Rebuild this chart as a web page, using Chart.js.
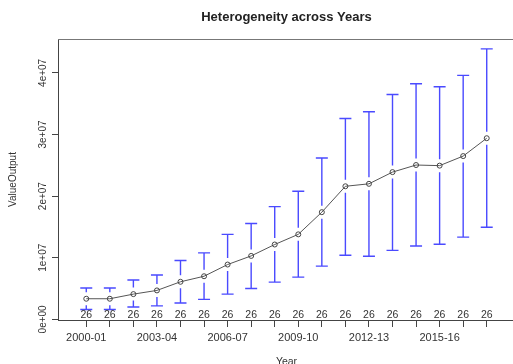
<!DOCTYPE html>
<html>
<head>
<meta charset="utf-8">
<script src="https://cdn.jsdelivr.net/npm/chart.js@4/dist/chart.umd.min.js"></script>
<style>
  html, body { margin: 0; padding: 0; background: #fff; overflow: hidden; }
  #wrap { position: relative; width: 520px; height: 370px; }
</style>
</head>
<body>
<div id="wrap"><canvas id="chart"></canvas></div>
<script>
// Survey years (x categories)
const years = ['2000-01','2001-02','2002-03','2003-04','2004-05','2005-06','2006-07','2007-08','2008-09',
               '2009-10','2010-11','2011-12','2012-13','2013-14','2014-15','2015-16','2016-17','2017-18'];
// Mean value of output per year
const meanValues  = [3.35e6, 3.35e6, 4.1e6, 4.7e6, 6.1e6, 7.0e6, 8.9e6, 10.3e6, 12.15e6,
                     13.8e6, 17.4e6, 21.6e6, 22.0e6, 23.9e6, 25.05e6, 24.95e6, 26.5e6, 29.4e6];
// Upper and lower ends of the confidence interval
const upperValues = [5.1e6, 5.1e6, 6.4e6, 7.2e6, 9.55e6, 10.8e6, 13.8e6, 15.55e6, 18.3e6,
                     20.8e6, 26.2e6, 32.6e6, 33.7e6, 36.5e6, 38.25e6, 37.75e6, 39.6e6, 43.9e6];
const lowerValues = [1.6e6, 1.6e6, 2.0e6, 2.2e6, 2.65e6, 3.25e6, 4.1e6, 5.0e6, 6.05e6,
                     6.85e6, 8.65e6, 10.4e6, 10.25e6, 11.2e6, 11.9e6, 12.2e6, 13.35e6, 14.95e6];
// Number of observations per year
const nCounts = [26,26,26,26,26,26,26,26,26,26,26,26,26,26,26,26,26,26];
// Axis ticks
const yTickValues = [0, 1e7, 2e7, 3e7, 4e7];
const yTickLabels = ['0e+00', '1e+07', '2e+07', '3e+07', '4e+07'];
const xLabelEvery = 3;

const FONT = "'Liberation Sans', Arial, Helvetica, sans-serif";
const TEXT = '#333';
const AXIS = '#444';

// Confidence-interval bars with a gap around each mean marker, plus the n= counts
const ciBars = {
  id: 'ciBars',
  afterDatasetsDraw(chart) {
    const xs = chart.scales.x, ys = chart.scales.y, ctx = chart.ctx;
    const gap = 6.5, cap = 6;
    ctx.save();
    ctx.strokeStyle = '#4a4aff';
    ctx.lineWidth = 1.4;
    meanValues.forEach((m, i) => {
      const x = xs.getPixelForValue(i);
      const yM = ys.getPixelForValue(m);
      const yU = ys.getPixelForValue(upperValues[i]);
      const yL = ys.getPixelForValue(lowerValues[i]);
      ctx.beginPath();
      if (yU < yM - gap) { ctx.moveTo(x, yU); ctx.lineTo(x, yM - gap); }
      if (yL > yM + gap) { ctx.moveTo(x, yM + gap); ctx.lineTo(x, yL); }
      ctx.moveTo(x - cap, yU); ctx.lineTo(x + cap, yU);
      ctx.moveTo(x - cap, yL); ctx.lineTo(x + cap, yL);
      ctx.stroke();
    });
    ctx.fillStyle = TEXT;
    ctx.font = '10.5px ' + FONT;
    ctx.textAlign = 'center';
    ctx.textBaseline = 'middle';
    const yN = ys.getPixelForValue(0) - 4;
    nCounts.forEach((n, i) => ctx.fillText(String(n), xs.getPixelForValue(i), yN));
    ctx.restore();
  }
};

// Frame line along the top of the plotting region
const topFrame = {
  id: 'topFrame',
  afterDraw(chart) {
    const a = chart.chartArea, ctx = chart.ctx;
    ctx.save();
    ctx.strokeStyle = '#777';
    ctx.lineWidth = 1.2;
    ctx.beginPath();
    ctx.moveTo(a.left, a.top + 0.5);
    ctx.lineTo(a.right + 4, a.top + 0.5);
    ctx.stroke();
    ctx.restore();
  }
};

new Chart(document.getElementById('chart'), {
  type: 'line',
  data: {
    datasets: [{
      data: meanValues.map((v, i) => ({ x: i, y: v })),
      borderColor: '#555',
      borderWidth: 1,
      pointRadius: 2.5,
      pointBorderWidth: 1,
      pointBorderColor: '#444',
      pointBackgroundColor: 'rgba(0,0,0,0)',
      tension: 0
    }]
  },
  options: {
    responsive: true,
    maintainAspectRatio: false,
    animation: false,
    events: [],
    layout: { padding: { left: 0, right: 4, top: 0, bottom: 0 } },
    plugins: {
      legend: { display: false },
      tooltip: { enabled: false },
      title: {
        display: true,
        fullSize: false,
        text: 'Heterogeneity across Years',
        color: '#222',
        font: { family: FONT, size: 13, weight: 'bold' },
        padding: { top: 9.5, bottom: 13.9 }
      }
    },
    scales: {
      x: {
        type: 'linear',
        min: -1.2,
        max: 18.2,
        afterBuildTicks: s => { s.ticks = years.map((_, i) => ({ value: i })); },
        afterFit: s => { s.height = 50; },
        ticks: {
          autoSkip: false,
          maxRotation: 0,
          padding: 4,
          color: TEXT,
          font: { family: FONT, size: 11 },
          callback: v => (v % xLabelEvery === 0 ? years[v] : '')
        },
        grid: { display: true, drawOnChartArea: false, drawTicks: true, tickLength: 7, color: AXIS },
        border: { display: true, color: AXIS, width: 1 },
        title: {
          display: true, text: 'Year', color: TEXT,
          font: { family: FONT, size: 10.5 },
          padding: { top: 0, bottom: 1.4 }
        }
      },
      y: {
        type: 'linear',
        min: -1e5,
        max: 4.55e7,
        afterBuildTicks: s => { s.ticks = yTickValues.map(v => ({ value: v })); },
        afterFit: s => { s.width = 58; },
        ticks: {
          minRotation: 90,
          maxRotation: 90,
          crossAlign: 'center',
          padding: -5,
          color: TEXT,
          font: { family: FONT, size: 10 },
          callback: (v, idx) => yTickLabels[idx]
        },
        grid: { display: true, drawOnChartArea: false, drawTicks: true, tickLength: 6, color: AXIS },
        border: { display: true, color: AXIS, width: 1 },
        title: {
          display: true, text: 'ValueOutput', color: TEXT,
          font: { family: FONT, size: 10 },
          padding: { top: 7, bottom: 0 }
        }
      }
    }
  },
  plugins: [ciBars, topFrame]
});
</script>
</body>
</html>
